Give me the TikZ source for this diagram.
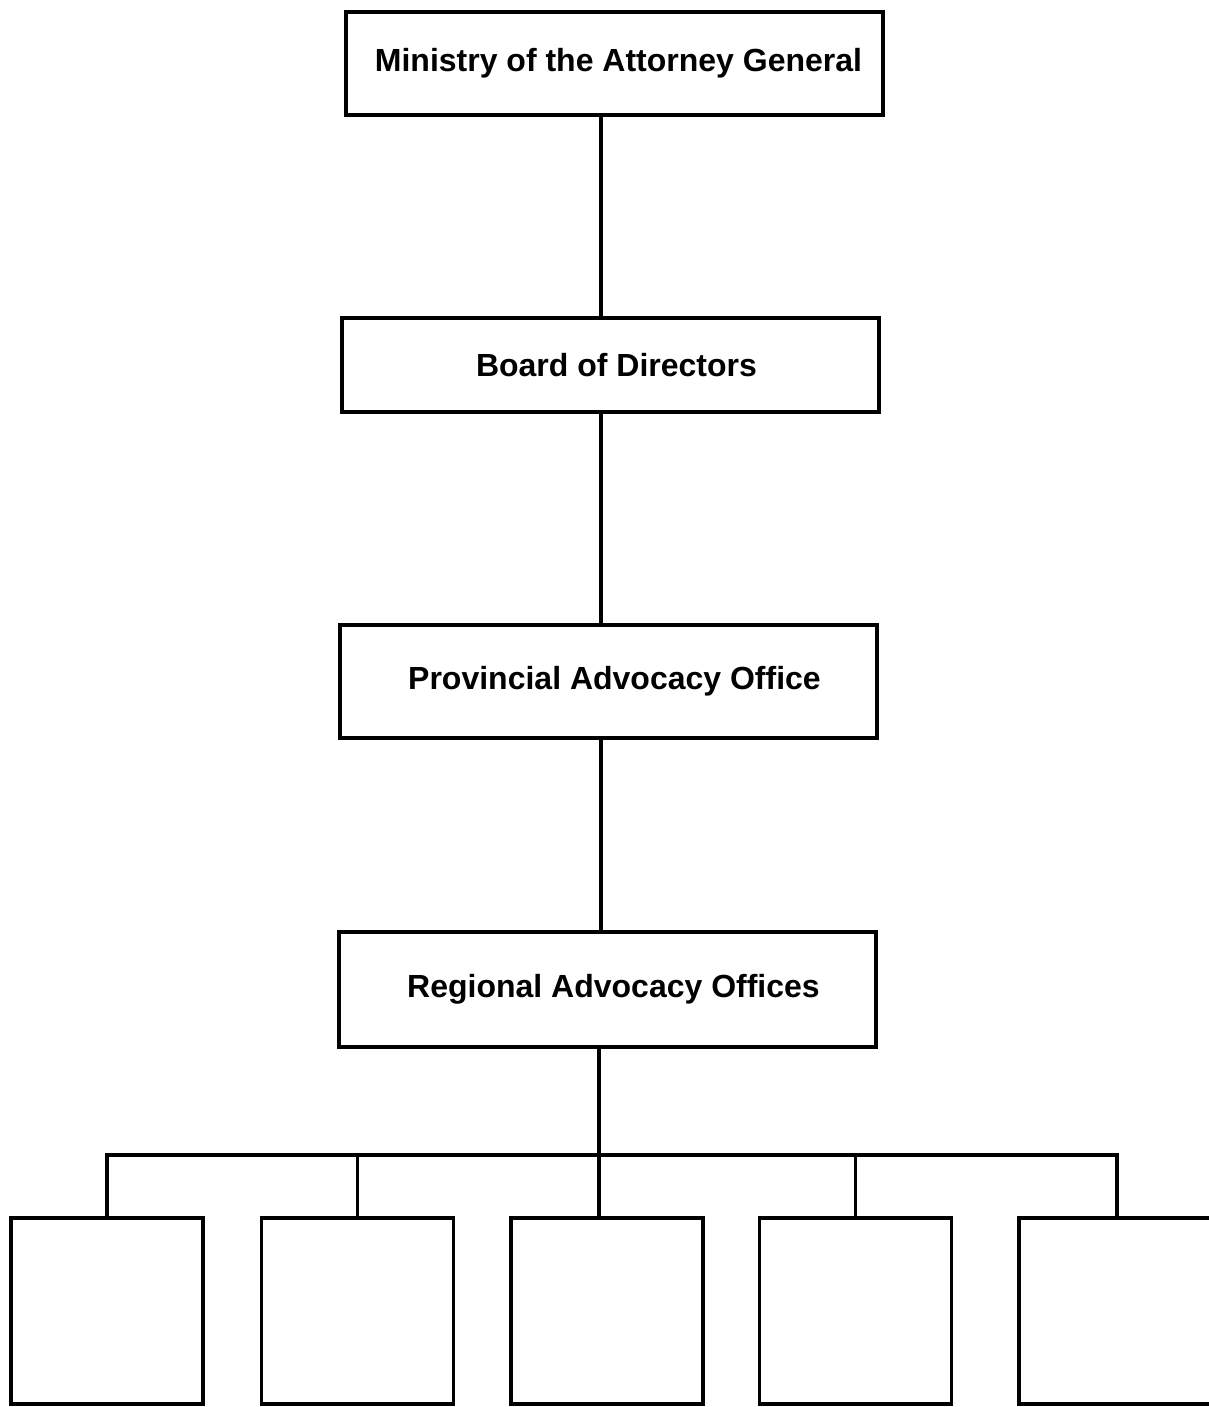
\documentclass[tikz,border=0pt]{standalone}
\usepackage{fontspec}
\setmainfont{Liberation Sans}
\usepackage{tikz}
\usetikzlibrary{calc,positioning}

\begin{document}
\begin{tikzpicture}[
        x=1pt, y=-1pt,
        orgbox/.style={draw, line width=3.5pt, minimum width=537pt, inner sep=0pt, font=\bfseries\fontsize{32}{38}\selectfont},
        unitbox/.style={draw, line width=3.5pt, minimum width=192pt, minimum height=186pt, inner sep=0pt},
        link/.style={line width=3.5pt}
    ]
        \useasboundingbox (0,0) rectangle (1208,1407);

        \node[orgbox, minimum height=103pt] (ministry) at (614.5,63.5) {\hspace{8pt}Ministry of the Attorney General};
        \node[orgbox, minimum height=94pt] (board) at (610.5,365) {\hspace{12pt}Board of Directors};
        \node[orgbox, minimum height=113pt] (provincial) at (608.5,681.5) {\hspace{12pt}Provincial Advocacy Office};
        \node[orgbox, minimum height=115pt] (regional) at (607.5,989.5) {\hspace{12pt}Regional Advocacy Offices};

        \node[unitbox] (unita) at (107,1311) {};
        \node[unitbox] (unitb) at (357.5,1311) {};
        \node[unitbox] (unitc) at (607,1311) {};
        \node[unitbox] (unitd) at (855.5,1311) {};
        \node[unitbox, minimum width=196pt] (unite) at (1117,1311) {};

        \coordinate (spine) at (601,0);
        \coordinate (bus) at (599,1155);

        \draw[link] (ministry.south -| spine) -- (board.north -| spine);
        \draw[link] (board.south -| spine) -- (provincial.north -| spine);
        \draw[link] (provincial.south -| spine) -- (regional.north -| spine);
        \draw[link] (regional.south -| bus) -- (bus);
        \draw[link] (unita.north) |- (bus) -| (unite.north);
        \foreach \u in {unitb,unitd}
            \draw[link] (\u.north) -- (\u.north |- bus);
        \draw[link] (unitc.north -| bus) -- (bus);
    \end{tikzpicture}
\end{document}
